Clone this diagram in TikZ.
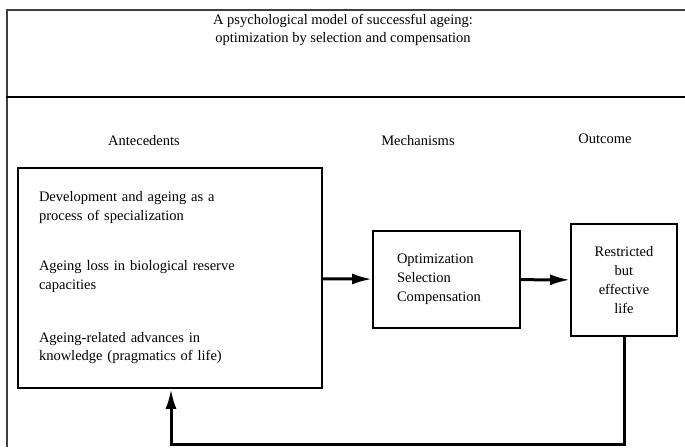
\documentclass[tikz,border=0pt]{standalone}
\usepackage{fontspec}
\setmainfont{Liberation Serif}
\usepackage{tikz}
\usetikzlibrary{shapes, arrows.meta, positioning}

\begin{document}
\begin{tikzpicture}[x=1pt,y=-1pt,font=\fontsize{14.5}{18.8}\selectfont]
        \useasboundingbox (0,0) rectangle (685,447);
        % frame and divider
        \draw[line width=1.2pt,black!75] (685,10) -- (7,10) -- (7,447);
        \draw[line width=2.8pt] (6,97) -- (685,97);
        \node (title) at (343,30) [align=center] {A psychological model of successful ageing:\\optimization by selection and compensation};
        \begin{scope}[every node/.style={inner sep=0pt}]
          \node (hante) at (144,141) {Antecedents};
          \node (hmech) at (418,141) {Mechanisms};
          \node (houtc) at (605,139) {Outcome};
        \end{scope}
        \begin{scope}[every node/.style={draw,line width=1.8pt,inner sep=0pt}]
          \node (ante) at (170,278) [minimum width=304pt,minimum height=220pt,text width=262pt,align=left]
            {Development and ageing as a\\process of specialization\\[31pt]
             Ageing loss in biological reserve\\capacities\\[34pt]
             Ageing-related advances in\\knowledge (pragmatics of life)};
          \node (mech) at (446.5,279.5) [minimum width=147pt,minimum height=97pt,text width=99pt,align=left]
            {Optimization\\Selection\\Compensation};
          \node (outc) at (624,280) [minimum width=106pt,minimum height=112pt,text width=90pt,align=center]
            {Restricted\\but\\effective\\life};
        \end{scope}
        \coordinate (turn) at (171,444);
        \begin{scope}[every edge/.style={draw=black,line width=3pt,-{Latex[length=20pt,width=11pt]}}]
          \path (ante) edge (mech);
          \path (mech) edge (outc);
        \end{scope}
        \draw[line width=3pt,-{Latex[length=20pt,width=11pt]}] (outc.south) |- (turn) -- (turn |- ante.south);
      \end{tikzpicture}
\end{document}
